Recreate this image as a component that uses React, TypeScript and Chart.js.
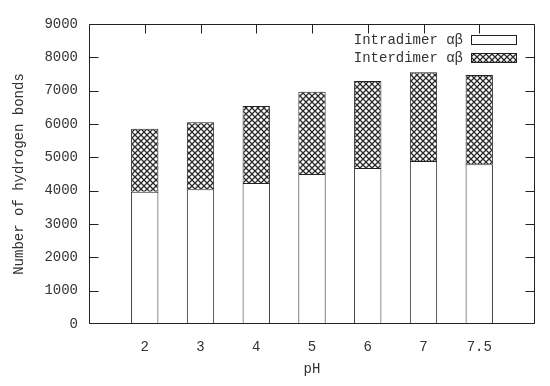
import React, { useEffect, useRef } from 'react';
import { Chart, registerables } from 'chart.js';
Chart.register(...registerables);

const categories = ['2', '3', '4', '5', '6', '7', '7.5'];
const intradimer = [3970, 4040, 4230, 4500, 4680, 4890, 4790];
const interdimer = [1890, 2010, 2310, 2470, 2610, 2660, 2680];
const seriesLabels = ['Intradimer \u03b1\u03b2', 'Interdimer \u03b1\u03b2'];
const yMin = 0;
const yMax = 9000;
const yStep = 1000;
const xTitle = 'pH';
const yTitle = 'Number of hydrogen bonds';

const FONT = "'Liberation Mono', 'DejaVu Sans Mono', monospace";
const TEXT = '#333';
const LINE = '#222';

function makeHatch(): CanvasPattern | string {
  const c = document.createElement('canvas');
  c.width = 6;
  c.height = 6;
  const g = c.getContext('2d');
  if (!g) return '#888';
  g.fillStyle = '#fff';
  g.fillRect(0, 0, 6, 6);
  g.strokeStyle = '#2a2a2a';
  g.lineWidth = 1.3;
  g.beginPath();
  g.moveTo(-1, -1); g.lineTo(7, 7);
  g.moveTo(7, -1); g.lineTo(-1, 7);
  g.stroke();
  const p = g.createPattern(c, 'repeat');
  return p || '#888';
}

const TICK = 9;

function edges(chartArea: any) {
  return {
    L: Math.round(chartArea.left) + 0.5,
    R: Math.round(chartArea.right) - 0.5,
    T: Math.round(chartArea.top) + 0.5,
    B: Math.round(chartArea.bottom) - 0.5,
  };
}

const bottomTicks = {
  id: 'bottomTicks',
  beforeDatasetsDraw(chart: any) {
    const { ctx, chartArea, scales } = chart;
    const { L, R, B } = edges(chartArea);
    const x = scales.x;
    ctx.save();
    ctx.strokeStyle = LINE;
    ctx.lineWidth = 1;
    ctx.beginPath();
    const n = chart.data.labels.length;
    for (let i = 0; i < n; i++) {
      const px = Math.max(L, Math.min(R, Math.round(x.getPixelForValue(i)) + 0.5));
      ctx.moveTo(px, B); ctx.lineTo(px, B - TICK);
    }
    ctx.stroke();
    ctx.restore();
  },
};

const frameLegendAfter = {
  id: 'frameLegendAfter',
  afterDraw(chart: any) {
    const { ctx, chartArea, scales } = chart;
    const { right, top } = chartArea;
    const { L, R, T, B } = edges(chartArea);
    const x = scales.x, y = scales.y;
    ctx.save();
    ctx.lineWidth = 1;
    ctx.strokeStyle = LINE;
    ctx.beginPath();
    ctx.rect(L, T, R - L, B - T);
    const n = chart.data.labels.length;
    for (let i = 0; i < n; i++) {
      const px = Math.max(L, Math.min(R, Math.round(x.getPixelForValue(i)) + 0.5));
      ctx.moveTo(px, T); ctx.lineTo(px, T + TICK);
    }
    for (let v = yMin; v <= yMax; v += yStep) {
      const py = Math.max(T, Math.min(B, Math.round(y.getPixelForValue(v)) + 0.5));
      ctx.moveTo(L, py); ctx.lineTo(L + TICK, py);
      ctx.moveTo(R, py); ctx.lineTo(R - TICK, py);
    }
    ctx.stroke();
    // legend (gnuplot style: text then sample box on the right)
    ctx.font = `14px ${FONT}`;
    ctx.textAlign = 'right';
    ctx.textBaseline = 'middle';
    const boxRight = Math.round(right) - 19;
    const boxW = 45, boxH = 9;
    chart.data.datasets.forEach((ds: any, i: number) => {
      const cy = top + 15 + i * 18;
      ctx.fillStyle = TEXT;
      ctx.fillText(ds.label, boxRight - boxW - 8, cy + 1);
      ctx.fillStyle = ds.backgroundColor;
      const by = Math.round(cy - boxH / 2);
      ctx.fillRect(boxRight - boxW, by, boxW, boxH);
      ctx.strokeStyle = LINE;
      ctx.strokeRect(boxRight - boxW + 0.5, by + 0.5, boxW, boxH);
    });
    ctx.restore();
  },
};

export default function App() {
  const ref = useRef<HTMLCanvasElement | null>(null);
  useEffect(() => {
    if (!ref.current) return;
    const labels = ['', ...categories, ''];
    const pad = (a: number[]) => [null, ...a, null];
    const hatch = makeHatch();
    const chart = new Chart(ref.current, {
      type: 'bar',
      data: {
        labels,
        datasets: [
          {
            label: seriesLabels[0],
            data: pad(intradimer),
            backgroundColor: '#ffffff',
            borderColor: LINE,
            borderWidth: 1,
            borderSkipped: 'bottom',
            barPercentage: 0.49,
            categoryPercentage: 1,
          },
          {
            label: seriesLabels[1],
            data: pad(interdimer),
            backgroundColor: hatch as any,
            borderColor: LINE,
            borderWidth: 1,
            borderSkipped: 'bottom',
            barPercentage: 0.49,
            categoryPercentage: 1,
          },
        ],
      },
      options: {
        animation: false,
        responsive: false,
        maintainAspectRatio: false,
        layout: { padding: { top: 24, right: 12, left: 0, bottom: 0 } },
        plugins: { legend: { display: false }, tooltip: { enabled: false } },
        scales: {
          x: {
            type: 'category',
            offset: false,
            stacked: true,
            grid: { display: false, drawTicks: false },
            border: { display: false },
            ticks: { color: TEXT, font: { family: FONT, size: 14 }, padding: 15, maxRotation: 0, autoSkip: false },
            title: { display: true, text: xTitle, color: TEXT, font: { family: FONT, size: 14 }, padding: { top: 0, bottom: 8 } },
            afterFit: (s: any) => { s.height = 62; },
          },
          y: {
            min: yMin,
            max: yMax,
            stacked: true,
            grid: { display: false, drawTicks: false },
            border: { display: false },
            ticks: {
              stepSize: yStep,
              color: TEXT,
              font: { family: FONT, size: 14 },
              padding: 11,
              callback: (v: any) => String(v),
            },
            title: { display: true, text: yTitle, color: TEXT, font: { family: FONT, size: 14 }, padding: { top: 11, bottom: 0 } },
            afterFit: (s: any) => { s.width = 89; },
          },
        },
      },
      plugins: [bottomTicks, frameLegendAfter],
    } as any);
    return () => chart.destroy();
  }, []);
  return (
    <div style={{ position: 'absolute', left: 0, top: 0, width: 550, height: 386, background: '#fff' }}>
      <canvas ref={ref} width={550} height={386} style={{ display: 'block' }} />
    </div>
  );
}
